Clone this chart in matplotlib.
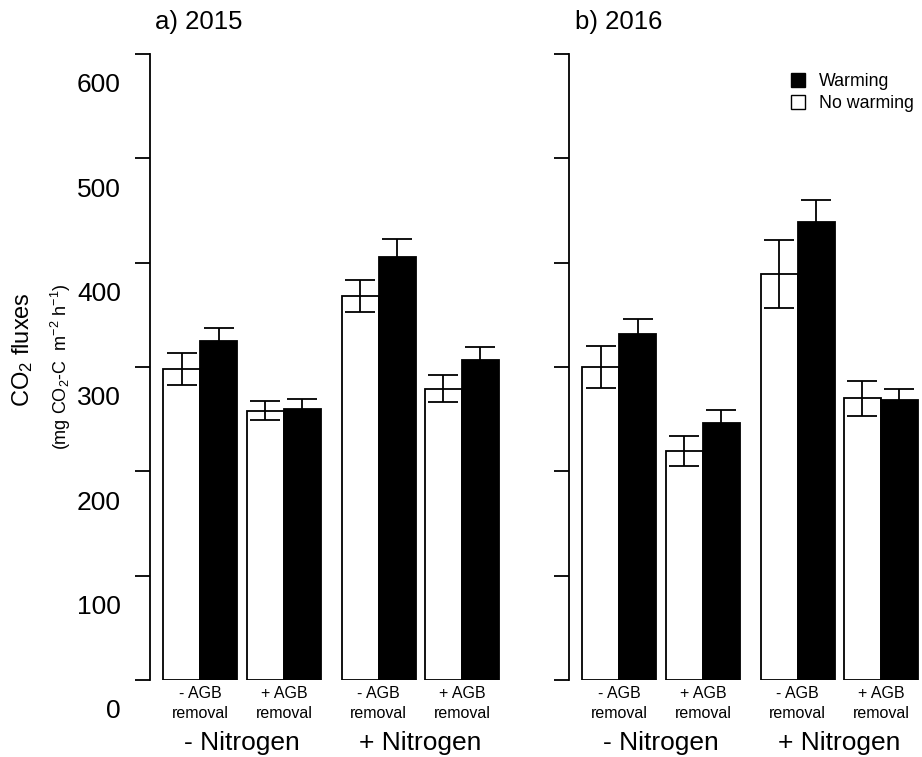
import matplotlib
matplotlib.use("Agg")
import matplotlib.pyplot as plt
from matplotlib.lines import Line2D
from matplotlib.transforms import ScaledTranslation

plt.rcParams['font.family'] = ['Liberation Sans', 'DejaVu Sans']
plt.rcParams['mathtext.fontset'] = 'custom'
plt.rcParams['mathtext.rm'] = 'Liberation Sans'
plt.rcParams['mathtext.it'] = 'Liberation Sans:italic'
plt.rcParams['mathtext.bf'] = 'Liberation Sans:bold'

# ---- data ----
years = ["a) 2015", "b) 2016"]
agb_labels = ["- AGB\nremoval", "+ AGB\nremoval", "- AGB\nremoval", "+ AGB\nremoval"]
nitrogen_labels = ["- Nitrogen", "+ Nitrogen"]
ytick_values = [0, 100, 200, 300, 400, 500, 600]

nowarm_2015 = [298, 258, 368, 279]
nowarm_se_2015 = [15, 9, 15, 13]
warm_2015 = [325, 260, 405, 307]
warm_se_2015 = [12, 9, 17.5, 12]

nowarm_2016 = [300, 219.5, 389, 270]
nowarm_se_2016 = [20.5, 14.5, 32.5, 16.5]
warm_2016 = [332, 246.5, 439, 268]
warm_se_2016 = [14, 12, 21, 11]

# ---- layout ----
W, H = 922, 757
fig = plt.figure(figsize=(W / 100, H / 100), dpi=100)
px = 37.0  # pixels per bar width
bottom = (H - 680) / H
height = (680 - 54) / H
axL = fig.add_axes([150 / W, bottom, 9.8 * px / W, height])
axR = fig.add_axes([569 / W, bottom, 9.5 * px / W, height])

starts = [0.36, 2.62, 5.18, 7.43]

def draw(ax, nw, nwse, w, wse, xmax, labels_on):
    xw = starts
    xb = [s + 1 for s in starts]
    ax.bar(xw, nw, width=1, align='edge', color='white', edgecolor='black', linewidth=1.3, zorder=2)
    ax.bar(xb, w, width=1, align='edge', color='black', edgecolor='black', linewidth=1.3, zorder=2)
    ax.errorbar([x + 0.5 for x in xw], nw, yerr=nwse, fmt='none', ecolor='black',
                elinewidth=1.3, capsize=10.5, capthick=1.3, zorder=3)
    ax.errorbar([x + 0.5 for x in xb], w, yerr=wse, fmt='none', ecolor='black',
                elinewidth=1.3, capsize=10.5, capthick=1.3, zorder=3)
    ax.set_xlim(0, xmax)
    ax.set_ylim(0, 600)
    for s in ['top', 'right', 'bottom']:
        ax.spines[s].set_visible(False)
    ax.spines['left'].set_linewidth(1.3)
    ax.spines['left'].set_bounds(0, 600)
    ax.set_yticks(ytick_values)
    ax.tick_params(axis='y', direction='out', length=10.5, width=1.3, pad=10.5, labelsize=19)
    if labels_on:
        ax.set_yticklabels([str(v) for v in ytick_values])
        off = ScaledTranslation(0, -0.29, fig.dpi_scale_trans)
        for lab in ax.get_yticklabels():
            lab.set_transform(lab.get_transform() + off)
    else:
        ax.set_yticklabels([])
    centers = [s + 1 for s in starts]
    ax.set_xticks(centers)
    ax.set_xticklabels(agb_labels, fontsize=11.5, linespacing=1.45)
    ax.tick_params(axis='x', length=0, pad=4)
    ncent = [(starts[0] + starts[1] + 2) / 2, (starts[2] + starts[3] + 2) / 2]
    for x, t in zip(ncent, nitrogen_labels):
        ax.text(x, -0.100, t, transform=ax.get_xaxis_transform(), ha='center', va='center', fontsize=19)

draw(axL, nowarm_2015, nowarm_se_2015, warm_2015, warm_se_2015, 9.8, True)
draw(axR, nowarm_2016, nowarm_se_2016, warm_2016, warm_se_2016, 9.5, False)

fig.text(155 / W, 1 - 29 / H, years[0], ha='left', va='baseline', fontsize=18.5)
fig.text(575 / W, 1 - 29 / H, years[1], ha='left', va='baseline', fontsize=18.5)

fig.text(23 / W, 1 - 350 / H, "CO$_2$ fluxes", rotation=90, ha='center', va='center', fontsize=17)
fig.text(61 / W, 1 - 367 / H, "(mg CO$_2$-C  m$^{-2}$ h$^{-1}$)", rotation=90, ha='center', va='center', fontsize=13)

handles = [Line2D([], [], marker='s', linestyle='none', markersize=9.5, markerfacecolor='black',
                  markeredgecolor='black', markeredgewidth=1.0),
           Line2D([], [], marker='s', linestyle='none', markersize=9.5, markerfacecolor='white',
                  markeredgecolor='black', markeredgewidth=1.0)]
axR.legend(handles, ["Warming", "No warming"], loc='upper left',
           bbox_to_anchor=(789 / W, 1 - 73 / H), bbox_transform=fig.transFigure,
           frameon=False, fontsize=12.8, handlelength=1.0, handletextpad=0.7,
           labelspacing=0.28, borderpad=0, borderaxespad=0)

fig.savefig("out.png", dpi=100)
